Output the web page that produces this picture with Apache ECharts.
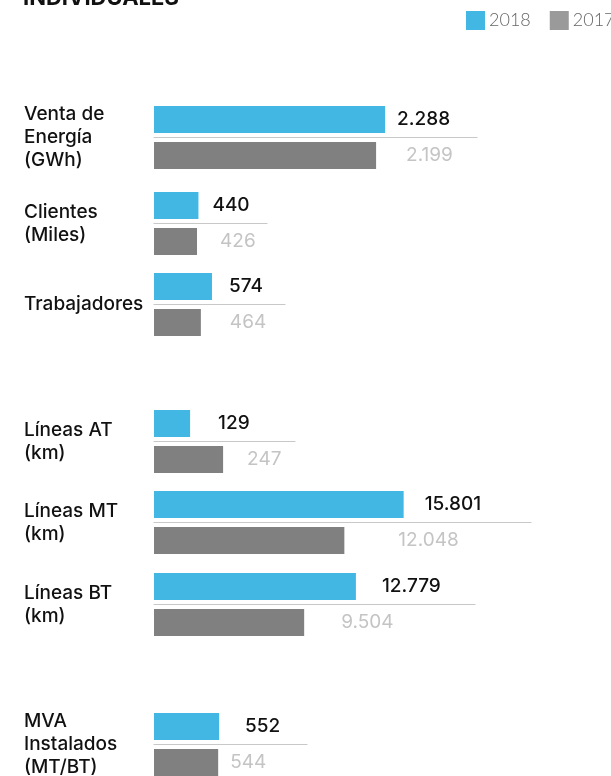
<!doctype html>
<html>
<head>
<meta charset="UTF-8">
<title>Indicadores individuales</title>
<script src="https://cdn.jsdelivr.net/npm/echarts@6/dist/echarts.min.js"></script>
<style>
  html, body { margin: 0; padding: 0; background: #fff; }
  #main { width: 611px; height: 776px; }
</style>
</head>
<body>
<div id="main"></div>
<script>
// datos
var categories = ['Venta de\nEnergía\n(GWh)', 'Clientes\n(Miles)', 'Trabajadores', 'Líneas AT\n(km)',
                  'Líneas MT\n(km)', 'Líneas BT\n(km)', 'MVA\nInstalados\n(MT/BT)'];
var values2018 = [2288, 440, 574, 129, 15801, 12779, 552];
var values2017 = [2199, 426, 464, 247, 12048, 9504, 544];
var years = ['2018', '2017'];

// layout de cada fila (px)
var rowTop = [106, 192, 273, 410, 491, 573, 713];
var lineLen = [323, 113, 131, 141, 377, 321, 153];
var axisMax = [3198, 1119, 1297, 504, 23861, 20316, 1297];
var gap2018 = [12, 14, 17, 28, 21, 26, 26];
var gap2017 = [30, 23, 29, 24, 54, 37, 12];

var BLUE = '#43b7e3';
var GREY = '#808080';
var FONT = 'Inter';

function fmt(p) {
    return String(p.value).replace(/\B(?=(\d{3})+(?!\d))/g, '.');
}

var grids = [], xAxes = [], yAxes = [], series = [];
var titles = [{
    text: 'INDIVIDUALES', left: 23, top: -13, padding: 0,
    textStyle: { fontFamily: FONT, fontSize: 22, fontWeight: 'bold', color: '#111' }
}];

for (var i = 0; i < categories.length; i++) {
    var nLines = categories[i].split('\n').length;
    titles.push({
        text: categories[i], left: 24, padding: 0,
        top: rowTop[i] + 31.5 - nLines * 23 / 2,
        textStyle: { fontFamily: FONT, fontSize: 19, fontWeight: 500, color: '#111', lineHeight: 23 }
    });

    // fila 2018 (con la línea separadora como eje)
    grids.push({ left: 154, top: rowTop[i] - 4, width: lineLen[i], height: 35 });
    grids.push({ left: 154, top: rowTop[i] + 36, width: lineLen[i], height: 27 });

    xAxes.push({
        gridIndex: 2 * i, type: 'value', min: 0, max: axisMax[i],
        axisLine: { show: true, lineStyle: { color: '#c8c8c8', width: 1.2 } },
        axisTick: { show: false }, axisLabel: { show: false }, splitLine: { show: false }
    });
    xAxes.push({
        gridIndex: 2 * i + 1, type: 'value', min: 0, max: axisMax[i], show: false,
        splitLine: { show: false }
    });
    yAxes.push({ gridIndex: 2 * i, type: 'category', data: [years[0]], show: false });
    yAxes.push({ gridIndex: 2 * i + 1, type: 'category', data: [years[1]], show: false });

    series.push({
        name: '2018', type: 'bar', xAxisIndex: 2 * i, yAxisIndex: 2 * i,
        data: [values2018[i]], barWidth: 27, silent: true,
        itemStyle: { color: BLUE },
        label: {
            show: true, position: 'right', distance: gap2018[i], formatter: fmt,
            fontFamily: FONT, fontSize: 19, fontWeight: 500, color: '#111'
        }
    });
    series.push({
        name: '2017', type: 'bar', xAxisIndex: 2 * i + 1, yAxisIndex: 2 * i + 1,
        data: [values2017[i]], barWidth: 27, silent: true,
        itemStyle: { color: GREY },
        label: {
            show: true, position: 'right', distance: gap2017[i], formatter: fmt,
            fontFamily: FONT, fontSize: 19, color: '#c4c4c4'
        }
    });
}

var myChart = echarts.init(document.getElementById('main'), null, { renderer: 'canvas' });
myChart.setOption({
    backgroundColor: '#fff',
    animation: false,
    title: titles,
    legend: {
        left: 466, top: 11, width: 220, padding: 0, orient: 'horizontal',
        icon: 'rect', itemWidth: 19, itemHeight: 19, itemGap: 19,
        textStyle: { fontFamily: 'Lato', fontSize: 18, fontWeight: 300, color: '#666', padding: [0, 0, 0, -1] },
        selectedMode: false,
        data: [
            { name: '2018', itemStyle: { color: BLUE } },
            { name: '2017', itemStyle: { color: '#9a9a9a' } }
        ]
    },
    grid: grids,
    xAxis: xAxes,
    yAxis: yAxes,
    series: series
});
</script>
</body>
</html>
